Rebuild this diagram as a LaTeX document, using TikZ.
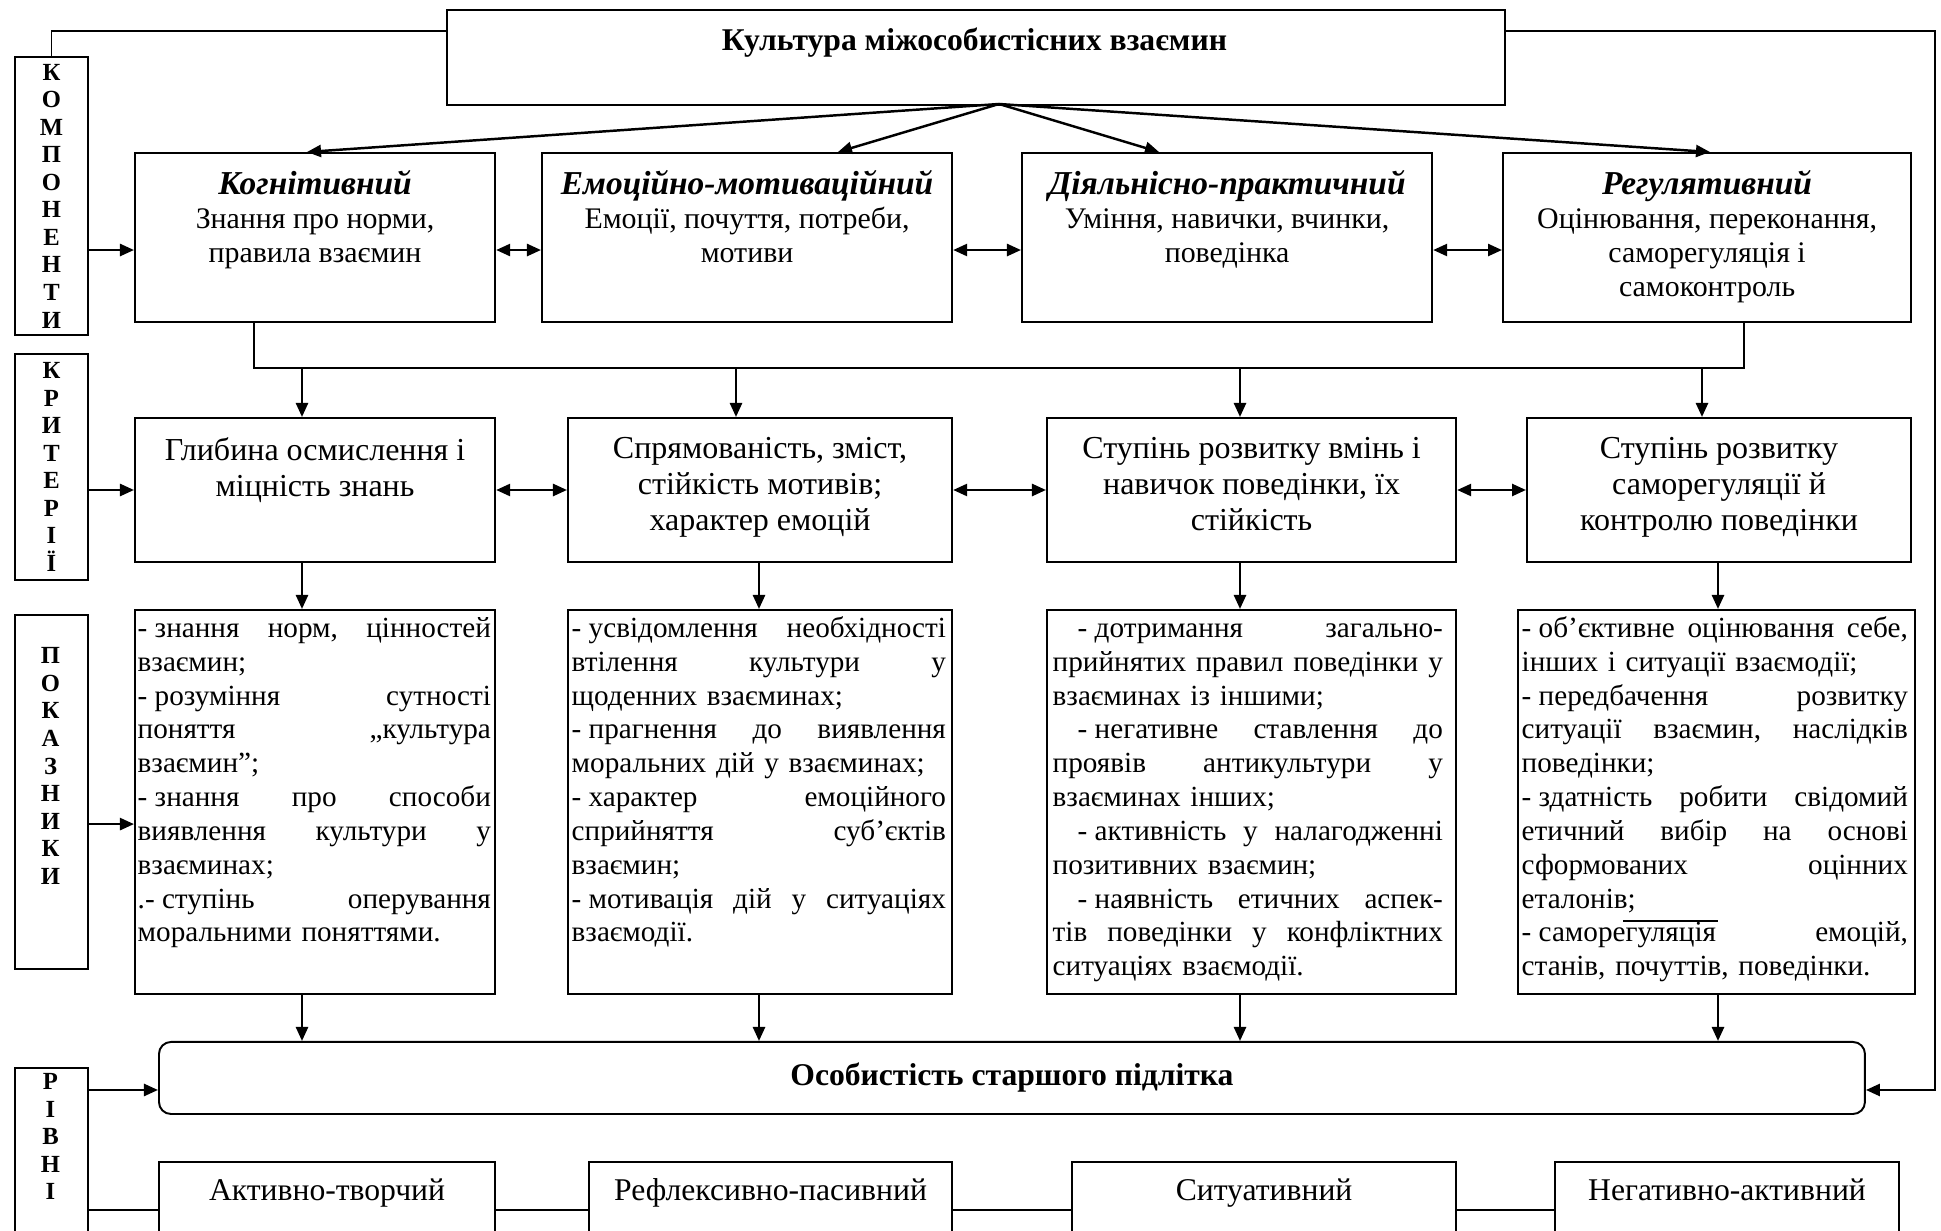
\documentclass[tikz,border=0pt]{standalone}
\usepackage{fontspec}
\setmainfont{Liberation Serif}
\usetikzlibrary{arrows.meta}

% justified row of a list box
\newlength{\rowwd}
\newcommand{\jrow}[1]{\makebox[\rowwd][s]{\spaceskip=.25em plus 1fil\strut#1}\\}
\newcommand{\dsh}{-\hspace{.25em}}

\tikzset{
  box/.style={draw, line width=0.55pt, inner sep=0pt, anchor=north west},
  vlab/.style={align=center, inner sep=0pt, font=\bfseries\fontsize{7}{7.83}\selectfont},
  comp/.style={align=center, inner sep=0pt, anchor=north, font=\fontsize{8.5}{9.65}\selectfont},
  crit/.style={align=center, inner sep=0pt, anchor=north, font=\fontsize{9.1}{10.3}\selectfont},
  ind/.style={align=left, inner sep=0pt, anchor=north west, text width=#1,
    font=\fontsize{8.3}{9.62}\selectfont\frenchspacing\parindent0pt,
    execute at begin node={\setlength{\rowwd}{#1}}},
  lev/.style={inner sep=0pt, anchor=base, font=\fontsize{9}{10}\selectfont},
  arr/.style={line width=0.7pt, -{Triangle[length=1.4mm,width=1.2mm]}},
  dbl/.style={line width=0.7pt, {Triangle[length=1.4mm,width=1.2mm]}-{Triangle[length=1.4mm,width=1.2mm]}},
}

\begin{document}
\begin{tikzpicture}[x=0.01cm, y=-0.01cm]
  \useasboundingbox (0,0) rectangle (1941,1231);
  \clip (0,0) rectangle (1941,1231);

  % top
  \node[box, minimum width=10.57cm, minimum height=0.95cm] (cult) at (446,9) {};
  \node[inner sep=0pt, font=\bfseries\fontsize{9}{10}\selectfont] (cultt) at (974.5,42.5) {Культура міжособистісних взаємин};

  % side labels
  \node[box, minimum width=0.73cm, minimum height=2.78cm] (komp) at (14,56) {};
  \node[box, minimum width=0.73cm, minimum height=2.26cm] (krit) at (14,353) {};
  \node[box, minimum width=0.73cm, minimum height=3.54cm] (pok) at (14,614) {};
  \node[box, minimum width=0.73cm, minimum height=2.0cm] (rivni) at (14,1067) {};
  \node[vlab] (kompt) at (komp.center) {К\\О\\М\\П\\О\\Н\\Е\\Н\\Т\\И};
  \node[vlab] (kritt) at (krit.center) {К\\Р\\И\\Т\\Е\\Р\\І\\Ї};
  \node[vlab] (pokt) at (50.5,766) {П\\О\\К\\А\\З\\Н\\И\\К\\И};
  \node[vlab] (rivnit) at (50.5,1136.5) {Р\\І\\В\\Н\\І};

  % components
  \node[box, minimum width=3.60cm, minimum height=1.69cm] (k1) at (134,152) {};
  \node[box, minimum width=4.10cm, minimum height=1.69cm] (k2) at (541,152) {};
  \node[box, minimum width=4.10cm, minimum height=1.69cm] (k3) at (1021,152) {};
  \node[box, minimum width=4.08cm, minimum height=1.69cm] (k4) at (1502,152) {};
  \node[comp] (k1t) at (k1.north |- 0,170) {{\fontsize{9.5}{9.65}\selectfont\textbf{\textit{Когнітивний}}}\\Знання про норми,\\правила взаємин};
  \node[comp] (k2t) at (k2.north |- 0,170) {{\fontsize{9.5}{9.65}\selectfont\textbf{\textit{Емоційно-мотиваційний}}}\\Емоції, почуття, потреби,\\мотиви};
  \node[comp] (k3t) at (k3.north |- 0,170) {{\fontsize{9.5}{9.65}\selectfont\textbf{\textit{Діяльнісно-практичний}}}\\Уміння, навички, вчинки,\\поведінка};
  \node[comp] (k4t) at (k4.north |- 0,170) {{\fontsize{9.5}{9.65}\selectfont\textbf{\textit{Регулятивний}}}\\Оцінювання, переконання,\\саморегуляція і\\самоконтроль};

  % criteria
  \node[box, minimum width=3.60cm, minimum height=1.44cm] (c1) at (134,417) {};
  \node[box, minimum width=3.84cm, minimum height=1.44cm] (c2) at (567,417) {};
  \node[box, minimum width=4.09cm, minimum height=1.44cm] (c3) at (1046,417) {};
  \node[box, minimum width=3.84cm, minimum height=1.44cm] (c4) at (1526,417) {};
  \node[crit] (c1t) at (c1.north |- 0,436.5) {Глибина осмислення і\\міцність знань};
  \node[crit] (c2t) at (c2.north |- 0,436.5) {Спрямованість, зміст,\\стійкість мотивів;\\характер емоцій};
  \node[crit] (c3t) at (c3.north |- 0,436.5) {Ступінь розвитку вмінь і\\навичок поведінки, їх\\стійкість};
  \node[crit] (c4t) at (c4.north |- 0,436.5) {Ступінь розвитку\\саморегуляції й\\контролю поведінки};

  % indicators
  \node[box, minimum width=3.60cm, minimum height=3.84cm] (p1) at (134,609) {};
  \node[box, minimum width=3.84cm, minimum height=3.84cm] (p2) at (567,609) {};
  \node[box, minimum width=4.09cm, minimum height=3.84cm] (p3) at (1046,609) {};
  \node[box, minimum width=3.97cm, minimum height=3.84cm] (p4) at (1517,609) {};
  \node[ind=3.53cm] (p1t) at (137,613) {%
    \jrow{\dsh знання норм, цінностей}
    взаємин;\\
    \jrow{\dsh розуміння сутності}
    \jrow{поняття „культура}
    взаємин”;\\
    \jrow{\dsh знання про способи}
    \jrow{виявлення культури у}
    взаєминах;\\
    \jrow{.\dsh ступінь оперування}
    моральними поняттями.};
  \node[ind=3.74cm] (p2t) at (571,613) {%
    \jrow{\dsh усвідомлення необхідності}
    \jrow{втілення культури у}
    щоденних взаєминах;\\
    \jrow{\dsh прагнення до виявлення}
    моральних дій у взаєминах;\\
    \jrow{\dsh характер емоційного}
    \jrow{сприйняття суб’єктів}
    взаємин;\\
    \jrow{\dsh мотивація дій у ситуаціях}
    взаємодії.};
  \node[ind=3.90cm] (p3t) at (1052,613) {%
    \jrow{\hspace*{2.5mm}\dsh дотримання загально-}
    \jrow{прийнятих правил поведінки у}
    взаєминах із іншими;\\
    \jrow{\hspace*{2.5mm}\dsh негативне ставлення до}
    \jrow{проявів антикультури у}
    взаєминах інших;\\
    \jrow{\hspace*{2.5mm}\dsh активність у налагодженні}
    позитивних взаємин;\\
    \jrow{\hspace*{2.5mm}\dsh наявність етичних аспек-}
    \jrow{тів поведінки у конфліктних}
    ситуаціях взаємодії.};
  \node[ind=3.86cm] (p4t) at (1521,613) {%
    \jrow{\dsh об’єктивне оцінювання себе,}
    інших і ситуації взаємодії;\\
    \jrow{\dsh передбачення розвитку}
    \jrow{ситуації взаємин, наслідків}
    поведінки;\\
    \jrow{\dsh здатність робити свідомий}
    \jrow{етичний вибір на основі}
    \jrow{сформованих оцінних}
    еталонів;\\
    \jrow{\dsh саморегуляція емоцій,}
    станів, почуттів, поведінки.};
  \draw[line width=0.55pt] (1623,921) -- (1718,921);

  % personality and levels
  \node[box, rounded corners=1.2mm, minimum width=17.05cm, minimum height=0.72cm,
    font=\bfseries\fontsize{9}{10}\selectfont] (osob) at (158,1041) {Особистість старшого підлітка};
  \node[box, minimum width=3.36cm, minimum height=0.96cm] (l1) at (158,1161) {};
  \node[box, minimum width=3.63cm, minimum height=0.96cm] (l2) at (588,1161) {};
  \node[box, minimum width=3.84cm, minimum height=0.96cm] (l3) at (1071,1161) {};
  \node[box, minimum width=3.44cm, minimum height=0.96cm] (l4) at (1554,1161) {};
  \node[lev] (l1t) at (l1.north |- 0,1201) {Активно-творчий};
  \node[lev] (l2t) at (l2.north |- 0,1201) {Рефлексивно-пасивний};
  \node[lev] (l3t) at (l3.north |- 0,1201) {Ситуативний};
  \node[lev] (l4t) at (l4.north |- 0,1201) {Негативно-активний};

  % connectors
  \coordinate (fb) at (0,31);
  \coordinate (fbr) at (1935,31);
  \coordinate (apex) at (999,104);
  \draw[line width=0.55pt] (cult.west |- fb) -| (komp.north);
  \draw[arr] (cult.east |- fb) -- (fbr) |- ([yshift=-1.2mm]osob.east);
  \foreach \i/\x in {1/307,2/838,3/1159,4/1710} {
    \coordinate (tk\i) at (\x,0);
    \draw[arr] (apex) -- (k\i.north -| tk\i);
  }
  \coordinate (k1in) at ([yshift=-1.25mm]k1.west);
  \draw[arr] (komp.east |- k1in) -- (k1in);
  \foreach \a/\b in {k1/k2,k2/k3,k3/k4}
    \draw[dbl] ([yshift=-1.25mm]\a.east) -- ([yshift=-1.25mm]\b.west);
  \coordinate (busl) at (254,368);
  \coordinate (busr) at (1744,368);
  \draw[line width=0.55pt] (k1.south -| busl) |- (busr) -- (k4.south -| busr);
  \foreach \i/\x in {1/302,2/736,3/1240,4/1702} {
    \coordinate (bd\i) at (\x,368);
    \draw[arr] (bd\i) -- (c\i.north -| bd\i);
  }
  \draw[arr] (krit.east |- c1.west) -- (c1.west);
  \foreach \a/\b in {c1/c2,c2/c3,c3/c4}
    \draw[dbl] (\a.east) -- (\b.west);
  \foreach \i/\x in {1/302,2/759,3/1240,4/1718} {
    \coordinate (cp\i) at (\x,0);
    \draw[arr] (c\i.south -| cp\i) -- (p\i.north -| cp\i);
    \draw[arr] (p\i.south -| cp\i) -- (osob.north -| cp\i);
  }
  \coordinate (p1in) at ([yshift=-2.2mm]p1.west);
  \draw[arr] (pok.east |- p1in) -- (p1in);
  \coordinate (osin) at ([yshift=-1.2mm]osob.west);
  \draw[arr] (rivni.east |- osin) -- (osin);
  \draw[line width=0.55pt] (rivni.east |- l1.west) -- (l1.west);
  \foreach \a/\b in {l1/l2,l2/l3,l3/l4}
    \draw[line width=0.55pt] (\a.east) -- (\b.west);
\end{tikzpicture}
\end{document}
